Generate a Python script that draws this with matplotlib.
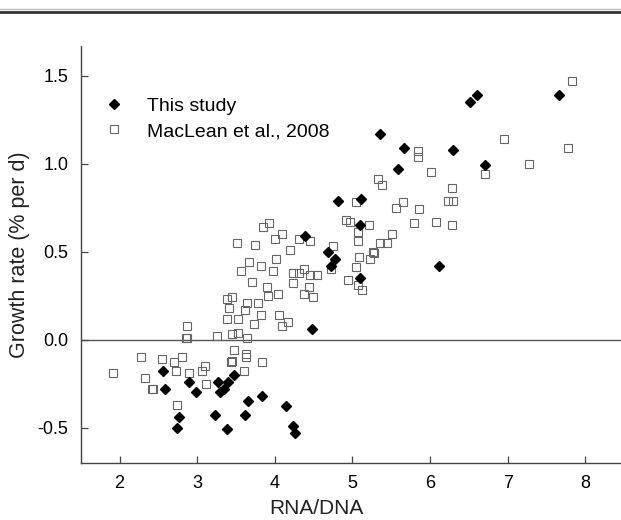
import matplotlib
matplotlib.use("Agg")
from matplotlib import pyplot as plt
from matplotlib.lines import Line2D

plt.rcParams['font.family'] = ['Liberation Sans', 'DejaVu Sans']
plt.rcParams['axes.unicode_minus'] = False

# This study: RNA/DNA ratio vs growth rate
this_rna = [6.60, 6.52, 7.66, 5.36, 5.66, 6.29, 5.59, 6.71, 4.81, 5.11,
            5.10, 4.39, 4.69, 4.77, 4.72, 5.10, 6.11, 4.48,
            2.56, 2.59, 2.90, 2.98, 2.77, 2.74, 3.27, 3.40, 3.30, 3.34,
            3.47, 3.23, 3.39, 3.65, 3.62, 3.84, 4.14, 4.23, 4.26]
this_growth = [1.39, 1.35, 1.39, 1.17, 1.09, 1.08, 0.97, 0.99, 0.79, 0.80,
               0.65, 0.59, 0.50, 0.46, 0.42, 0.35, 0.42, 0.06,
               -0.18, -0.28, -0.24, -0.30, -0.44, -0.50, -0.24, -0.24, -0.30, -0.28,
               -0.20, -0.43, -0.51, -0.35, -0.43, -0.32, -0.38, -0.49, -0.53]

# MacLean et al., 2008
maclean_rna = [1.92, 2.27, 2.33, 2.42, 2.43, 2.55, 2.70, 2.80, 2.73, 2.89,
               2.74, 2.87, 2.86, 2.87, 3.06, 3.10, 3.12, 3.25, 3.38, 3.41,
               3.52, 3.61, 3.45, 3.53, 3.64, 3.47, 3.43, 3.45, 3.63, 3.63,
               3.60, 3.82, 4.06, 4.17, 4.09, 3.73, 3.84,
               3.45, 3.39, 3.64, 3.78, 3.71, 3.90, 3.91, 4.04, 3.56, 3.67,
               3.82, 3.98, 4.01, 3.51, 3.75, 3.85, 3.92, 4.00, 4.09, 4.19,
               4.31, 4.37, 4.23, 4.31, 4.24, 4.37, 4.44, 4.45, 4.45, 4.54, 4.49,
               5.85, 5.85, 6.01, 5.33, 5.38, 5.05, 6.28, 6.23, 6.29, 5.65,
               5.56, 5.86, 4.92, 4.97, 5.22, 5.79, 6.08, 6.28, 5.07, 5.07,
               5.51, 5.36, 5.44, 4.75, 5.09, 5.27, 5.28, 5.23, 4.73, 5.04,
               4.94, 5.07, 5.12, 6.95, 7.28, 7.78, 7.83, 6.71]
maclean_growth = [-0.19, -0.10, -0.22, -0.28, -0.28, -0.11, -0.13, -0.10, -0.18, -0.19,
                  -0.37, 0.08, 0.01, 0.01, -0.18, -0.15, -0.25, 0.02, 0.12, 0.18,
                  0.12, 0.17, 0.03, 0.04, 0.01, -0.06, -0.13, -0.12, -0.08, -0.10,
                  -0.18, 0.14, 0.14, 0.10, 0.08, 0.09, -0.13,
                  0.24, 0.23, 0.21, 0.21, 0.33, 0.30, 0.25, 0.26, 0.39, 0.44,
                  0.42, 0.39, 0.46, 0.55, 0.54, 0.64, 0.66, 0.57, 0.60, 0.51,
                  0.57, 0.40, 0.38, 0.38, 0.32, 0.26, 0.30, 0.56, 0.37, 0.37, 0.24,
                  1.07, 1.04, 0.95, 0.91, 0.88, 0.78, 0.86, 0.79, 0.79, 0.78,
                  0.75, 0.74, 0.68, 0.67, 0.65, 0.66, 0.67, 0.65, 0.61, 0.56,
                  0.60, 0.55, 0.55, 0.53, 0.47, 0.50, 0.49, 0.46, 0.40, 0.41,
                  0.34, 0.31, 0.28, 1.14, 1.00, 1.09, 1.47, 0.94]

y_ticks = [-0.5, 0.0, 0.5, 1.0, 1.5]
x_ticks = [2, 3, 4, 5, 6, 7, 8]

fig = plt.figure(figsize=(6.21, 5.2), dpi=100)
ax = fig.add_axes([0.130, 0.110, 0.870, 0.802])

ax.axhline(0, color='#555555', lw=1.0, zorder=1)

ax.plot(maclean_rna, maclean_growth, ls='none', marker='s', ms=5.2,
        mfc='none', mec='#666666', mew=0.8, label='MacLean et al., 2008', zorder=2)
ax.plot(this_rna, this_growth, ls='none', marker='D', ms=4.6,
        color='black', label='This study', zorder=3)

ax.set_xlim(1.5, 8.46)
ax.set_ylim(-0.7, 1.67)
ax.set_xticks(x_ticks)
ax.set_yticks(y_ticks)
ax.set_yticklabels([f'{v:.1f}' for v in y_ticks])

for side in ('top', 'right'):
    ax.spines[side].set_visible(False)
for side in ('left', 'bottom'):
    ax.spines[side].set_color('#444444')
    ax.spines[side].set_linewidth(1.0)
ax.tick_params(direction='in', length=5, width=0.9, color='#444444',
               labelsize=13, pad=9)

ax.set_xlabel('RNA/DNA', fontsize=15, color='#222222')
ax.xaxis.set_label_coords((316 - 80.7) / (621 - 80.7), -0.086)
ax.set_ylabel('Growth rate (% per d)', fontsize=15.5, color='#222222')
ax.yaxis.set_label_coords(-0.094, 0.5)

handles, labels = ax.get_legend_handles_labels()
ax.legend(handles[::-1], labels[::-1], loc='upper left', frameon=False,
          fontsize=14, handlelength=1.0, handletextpad=1.2, labelspacing=0.4,
          borderaxespad=0, borderpad=0, bbox_to_anchor=(0.043, 0.877))

# double rule across the top of the page
fig.add_artist(Line2D([0, 1], [1 - 8.5 / 520] * 2, color='#bbbbbb', lw=1.0))
fig.add_artist(Line2D([0, 1], [1 - 11.5 / 520] * 2, color='#333333', lw=2.0))

fig.savefig('out.png', dpi=100)
